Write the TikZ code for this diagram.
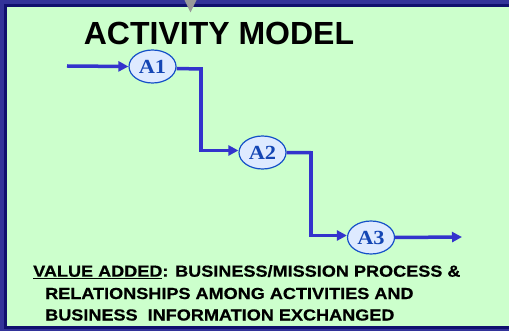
\documentclass[tikz,border=0pt]{standalone}
\usepackage{fontspec}
\setmainfont{Liberation Sans}
\newfontfamily\serifb{Liberation Serif}
\newfontfamily\heavysans[FakeBold=0.6]{Liberation Sans Bold}
\usetikzlibrary{arrows.meta,shapes.geometric}
\definecolor{bandout}{RGB}{51,51,153}
\definecolor{banddark}{RGB}{16,16,110}
\definecolor{bggreen}{RGB}{204,255,204}
\definecolor{flowblue}{RGB}{51,51,204}
\definecolor{ellfill}{RGB}{222,234,255}
\definecolor{elldraw}{RGB}{20,80,200}
\definecolor{elltext}{RGB}{20,70,180}
\tikzset{
  act/.style={ellipse, draw=elldraw, line width=1.2pt, fill=ellfill, minimum width=47pt, minimum height=33pt, inner sep=0pt, text=elltext, font=\serifb\bfseries\fontsize{20}{21}\selectfont},
  flow/.style={draw=flowblue, line width=3.5pt, -{Triangle[length=10pt,width=10pt]}},
  flowplain/.style={draw=flowblue, line width=3.5pt},
  txt/.style={anchor=base west, inner sep=0pt, font=\heavysans\fontsize{16}{18}\selectfont},
}
\newcommand{\wide}[1]{\scalebox{1.13}[1]{#1}}
\newcommand{\awide}[1]{\scalebox{1.12}[1]{#1}}
\begin{document}
\begin{tikzpicture}[x=1pt,y=-1pt]
\useasboundingbox (0,0) rectangle (509,331);
\fill[bandout] (0,0) rectangle (509,331);
\fill[banddark] (4,4) rectangle (509,329);
\fill[bggreen] (7,7) rectangle (509,326);
\fill[gray!80] (184.5,0) -- (196.5,0) -- (190.5,12.5) -- cycle;
\node[anchor=base, inner sep=0pt, font=\bfseries\fontsize{32}{36}\selectfont] (title) at (219,45) {ACTIVITY MODEL};
\node[act] (A1) at (152.5,66.5) {\awide{A1}};
\node[act] (A2) at (262.5,152.5) {\awide{A2}};
\node[act] (A3) at (371,237.5) {\awide{A3}};
\coordinate (in) at (67,66);
\coordinate (out) at (462,237);
\coordinate (c1) at (201,69);
\coordinate (c2) at (311,152.7);
\draw[flow] (in) -- (A1.west);
\draw[flowplain, line cap=butt] ([yshift=-2pt]A1.east) -- (c1);
\draw[flow] (c1.north) ++(0,-1.75) |- ([yshift=2pt]A2.west);
\draw[flowplain] (A2.east) -- (c2);
\draw[flow] (c2) ++(0,-1.75) |- ([yshift=2pt]A3.west);
\draw[flow] (A3.east) -- (out);
\node[txt] (l1) at (33,276.7) {\wide{\underline{VALUE ADDED}: BUSINESS/MISSION PROCESS \&}};
\node[txt] (l2) at (45,299) {\wide{RELATIONSHIPS AMONG ACTIVITIES AND}};
\node[txt] (l3) at (45,320.5) {\wide{BUSINESS\ \ INFORMATION EXCHANGED}};
\end{tikzpicture}
\end{document}
